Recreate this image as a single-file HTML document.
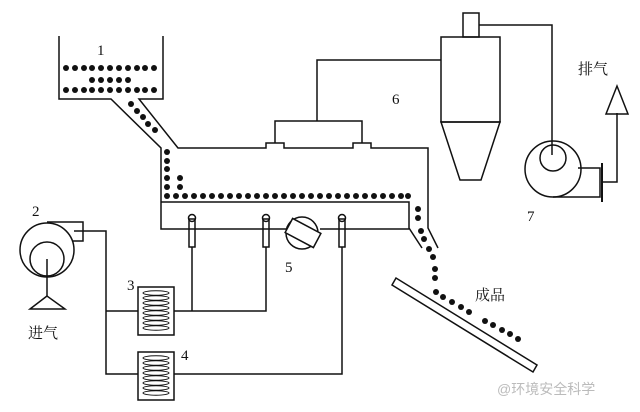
<!DOCTYPE html>
<html><head><meta charset="utf-8"><style>
html,body{margin:0;padding:0;background:#fff;}
svg{display:block}
text{font-family:"Liberation Serif","Noto Serif CJK SC",serif;fill:#111}
</style></head><body>
<svg width="640" height="412" viewBox="0 0 640 412" xmlns="http://www.w3.org/2000/svg">
<g fill="none" stroke="#111" stroke-width="1.5">
<!-- hopper -->
<polyline points="59,36 59,99 111,99 161,148 161,229 286,229"/>
<polyline points="163,36 163,99 139,99 178,148 266,148 266,143 284,143 284,148 353,148 353,143 371,143 371,148 428,148 428,228 438,248"/>
<polyline points="161,202 409,202 409,228 422,248"/>
<line x1="320" y1="229" x2="409" y2="229"/>
<!-- box on top -->
<polyline points="275,143 275,121 362,121 362,143"/>
<polyline points="317,121 317,60 441,60"/>
<!-- cyclone -->
<rect x="441" y="37" width="59" height="85"/>
<polygon points="441,122 500,122 481,180 460,180"/>
<rect x="463" y="13" width="16" height="24"/>
<polyline points="479,25 552,25 552,155"/>
<!-- fan 7 -->
<circle cx="553" cy="169" r="28"/>
<circle cx="553" cy="158" r="13"/>
<polyline points="578,168 600,168 600,197 553,197"/>
<line x1="602" y1="163" x2="602" y2="202" stroke-width="2"/>
<polyline points="602,182 617,182 617,113"/>
<polygon points="617,86 606,114 628,114"/>
<!-- tray -->
<polygon points="392,285 396,278 537,365 533,372"/>
<!-- fan 2 -->
<circle cx="47" cy="250" r="27"/>
<circle cx="47" cy="259" r="17"/>
<polyline points="47,222 83,222 83,241 72,241"/>
<polyline points="74,231 106,231 106,374 138,374"/>
<line x1="106" y1="311" x2="138" y2="311"/>
<line x1="47" y1="259" x2="47" y2="296"/>
<polygon points="47,296 30,309 65,309"/>
<!-- heaters -->
<rect x="138" y="287" width="36" height="48"/>
<rect x="138" y="352" width="36" height="48"/>
<polyline points="174,311 266,311 266,247"/>
<line x1="192" y1="311" x2="192" y2="247"/>
<polyline points="174,374 342,374 342,247"/>
<!-- tubes -->
<rect x="189" y="219" width="6" height="28"/>
<circle cx="192" cy="218" r="3.5"/>
<rect x="263" y="219" width="6" height="28"/>
<circle cx="266" cy="218" r="3.5"/>
<rect x="339" y="219" width="6" height="28"/>
<circle cx="342" cy="218" r="3.5"/>
<!-- valve -->
<circle cx="302" cy="233" r="16"/>
<rect x="287" y="225" width="32" height="16" transform="rotate(28 303 233)" fill="#fff"/>
</g>
<g fill="none" stroke="#111" stroke-width="1">
<ellipse cx="156" cy="293" rx="13" ry="2.2"/><ellipse cx="156" cy="298" rx="13" ry="2.2"/><ellipse cx="156" cy="303" rx="13" ry="2.2"/><ellipse cx="156" cy="308" rx="13" ry="2.2"/><ellipse cx="156" cy="313" rx="13" ry="2.2"/><ellipse cx="156" cy="318" rx="13" ry="2.2"/><ellipse cx="156" cy="323" rx="13" ry="2.2"/><ellipse cx="156" cy="328" rx="13" ry="2.2"/>
<ellipse cx="156" cy="358" rx="13" ry="2.2"/><ellipse cx="156" cy="363" rx="13" ry="2.2"/><ellipse cx="156" cy="368" rx="13" ry="2.2"/><ellipse cx="156" cy="373" rx="13" ry="2.2"/><ellipse cx="156" cy="378" rx="13" ry="2.2"/><ellipse cx="156" cy="383" rx="13" ry="2.2"/><ellipse cx="156" cy="388" rx="13" ry="2.2"/><ellipse cx="156" cy="393" rx="13" ry="2.2"/>
</g>
<g fill="#111" id="dots">
<script>/* no */</script>
</g>
<g fill="#111">
<!-- hopper rows -->
<g id="r1"></g>
</g>
<g fill="#111">
<circle cx="66" cy="68" r="3"/><circle cx="75" cy="68" r="3"/><circle cx="84" cy="68" r="3"/><circle cx="92" cy="68" r="3"/><circle cx="101" cy="68" r="3"/><circle cx="110" cy="68" r="3"/><circle cx="119" cy="68" r="3"/><circle cx="128" cy="68" r="3"/><circle cx="137" cy="68" r="3"/><circle cx="145" cy="68" r="3"/><circle cx="154" cy="68" r="3"/>
<circle cx="92" cy="80" r="3"/><circle cx="101" cy="80" r="3"/><circle cx="110" cy="80" r="3"/><circle cx="119" cy="80" r="3"/><circle cx="128" cy="80" r="3"/>
<circle cx="66" cy="90" r="3"/><circle cx="75" cy="90" r="3"/><circle cx="84" cy="90" r="3"/><circle cx="92" cy="90" r="3"/><circle cx="101" cy="90" r="3"/><circle cx="110" cy="90" r="3"/><circle cx="119" cy="90" r="3"/><circle cx="128" cy="90" r="3"/><circle cx="137" cy="90" r="3"/><circle cx="145" cy="90" r="3"/><circle cx="154" cy="90" r="3"/>
<circle cx="131" cy="104" r="3"/><circle cx="137" cy="111" r="3"/><circle cx="143" cy="117" r="3"/><circle cx="148" cy="124" r="3"/><circle cx="155" cy="130" r="3"/>
<circle cx="167" cy="152" r="3"/><circle cx="167" cy="161" r="3"/><circle cx="167" cy="169" r="3"/><circle cx="167" cy="178" r="3"/><circle cx="167" cy="187" r="3"/>
<circle cx="180" cy="178" r="3"/><circle cx="180" cy="187" r="3"/>
<circle cx="167" cy="196" r="3"/><circle cx="176" cy="196" r="3"/><circle cx="185" cy="196" r="3"/><circle cx="194" cy="196" r="3"/><circle cx="203" cy="196" r="3"/><circle cx="212" cy="196" r="3"/><circle cx="221" cy="196" r="3"/><circle cx="230" cy="196" r="3"/><circle cx="239" cy="196" r="3"/><circle cx="248" cy="196" r="3"/><circle cx="257" cy="196" r="3"/><circle cx="266" cy="196" r="3"/><circle cx="275" cy="196" r="3"/><circle cx="284" cy="196" r="3"/><circle cx="293" cy="196" r="3"/><circle cx="302" cy="196" r="3"/><circle cx="311" cy="196" r="3"/><circle cx="320" cy="196" r="3"/><circle cx="329" cy="196" r="3"/><circle cx="338" cy="196" r="3"/><circle cx="347" cy="196" r="3"/><circle cx="356" cy="196" r="3"/><circle cx="365" cy="196" r="3"/><circle cx="374" cy="196" r="3"/><circle cx="383" cy="196" r="3"/><circle cx="392" cy="196" r="3"/><circle cx="401" cy="196" r="3"/><circle cx="408" cy="196" r="3"/>
<circle cx="418" cy="209" r="3"/><circle cx="418" cy="218" r="3"/><circle cx="421" cy="231" r="3"/><circle cx="424" cy="239" r="3"/><circle cx="429" cy="249" r="3"/><circle cx="433" cy="257" r="3"/><circle cx="435" cy="269" r="3"/><circle cx="435" cy="278" r="3"/><circle cx="436" cy="292" r="3"/><circle cx="443" cy="297" r="3"/><circle cx="452" cy="302" r="3"/><circle cx="461" cy="307" r="3"/><circle cx="469" cy="312" r="3"/><circle cx="485" cy="321" r="3"/><circle cx="493" cy="325" r="3"/><circle cx="502" cy="330" r="3"/><circle cx="510" cy="334" r="3"/><circle cx="518" cy="339" r="3"/>
</g>
<g font-size="15">
<text x="97" y="55">1</text>
<text x="32" y="216">2</text>
<text x="127" y="290">3</text>
<text x="181" y="360">4</text>
<text x="285" y="272">5</text>
<text x="392" y="104">6</text>
<text x="527" y="221">7</text>
<text x="28" y="338">进气</text>
<text x="578" y="74">排气</text>
<text x="475" y="300">成品</text>
</g>
<text x="497" y="394" font-size="14" style="fill:#bbb;font-family:'Liberation Sans','Noto Sans CJK SC',sans-serif">@环境安全科学</text>
</svg>
</body></html>
